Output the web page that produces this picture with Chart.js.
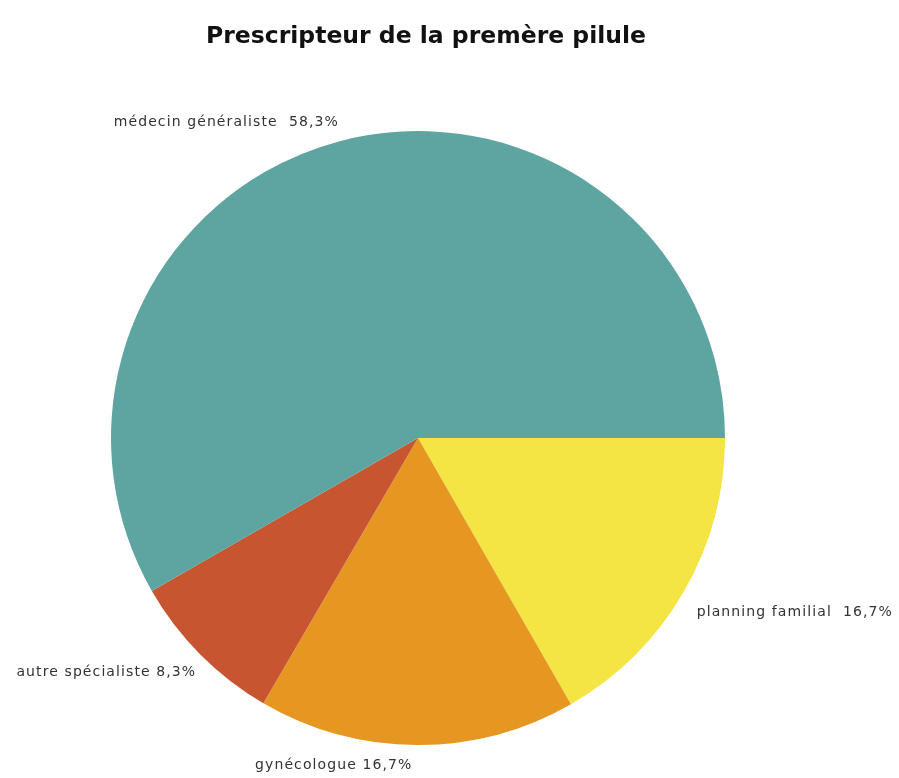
<!DOCTYPE html>
<html>
<head>
<meta charset="utf-8">
<script src="https://cdn.jsdelivr.net/npm/chart.js@4"></script>
<style>
    html, body { margin: 0; padding: 0; background: #fff; }
    #chart { display: block; }
</style>
</head>
<body>
<canvas id="chart" width="899" height="778"></canvas>
<script>
// slices, clockwise from 3 o'clock
const categories = ['planning familial', 'gynécologue', 'autre spécialiste', 'médecin généraliste'];
const shares = [16.7, 16.7, 8.3, 58.3];
const labelTexts = ['planning familial  16,7%', 'gynécologue 16,7%', 'autre spécialiste 8,3%', 'médecin généraliste  58,3%'];
const colors = ['#f4e444', '#e69722', '#c65530', '#5ea5a1'];

const TITLE = 'Prescripteur de la premère pilule';

// label placement relative to the arc midpoint of each slice
const labelPlacement = [
    { align: 'left', dx: 13, dy: 21 },
    { align: 'left', dx: -162, dy: 20 },
    { align: 'right', dx: -4, dy: 18 },
    { align: 'right', dx: 0, dy: -19 },
];

const outsideLabels = {
    id: 'outsideLabels',
    afterDraw(chart) {
        const ctx = chart.ctx;
        ctx.save();

        ctx.fillStyle = '#111';
        ctx.font = 'bold 23.5px "DejaVu Sans"';
        ctx.textAlign = 'center';
        ctx.textBaseline = 'middle';
        ctx.fillText(TITLE, 426, 37);

        ctx.fillStyle = '#333';
        ctx.font = '14px "DejaVu Sans"';
        ctx.letterSpacing = '1.1px';
        const meta = chart.getDatasetMeta(0);
        meta.data.forEach((arc, i) => {
            const mid = (arc.startAngle + arc.endAngle) / 2;
            const x = arc.x + Math.cos(mid) * arc.outerRadius;
            const y = arc.y + Math.sin(mid) * arc.outerRadius;
            const p = labelPlacement[i];
            ctx.textAlign = p.align;
            ctx.fillText(labelTexts[i], x + p.dx, y + p.dy);
        });
        ctx.restore();
    }
};

new Chart(document.getElementById('chart'), {
    type: 'pie',
    data: {
        labels: categories,
        datasets: [{
            data: shares,
            backgroundColor: colors,
            borderWidth: 0,
        }],
    },
    options: {
        responsive: false,
        animation: false,
        rotation: 90,
        layout: {
            padding: { top: 131, left: 111, right: 174, bottom: 33 },
        },
        plugins: {
            legend: { display: false },
            tooltip: { enabled: false },
            title: { display: false },
        },
    },
    plugins: [outsideLabels],
});
</script>
</body>
</html>
